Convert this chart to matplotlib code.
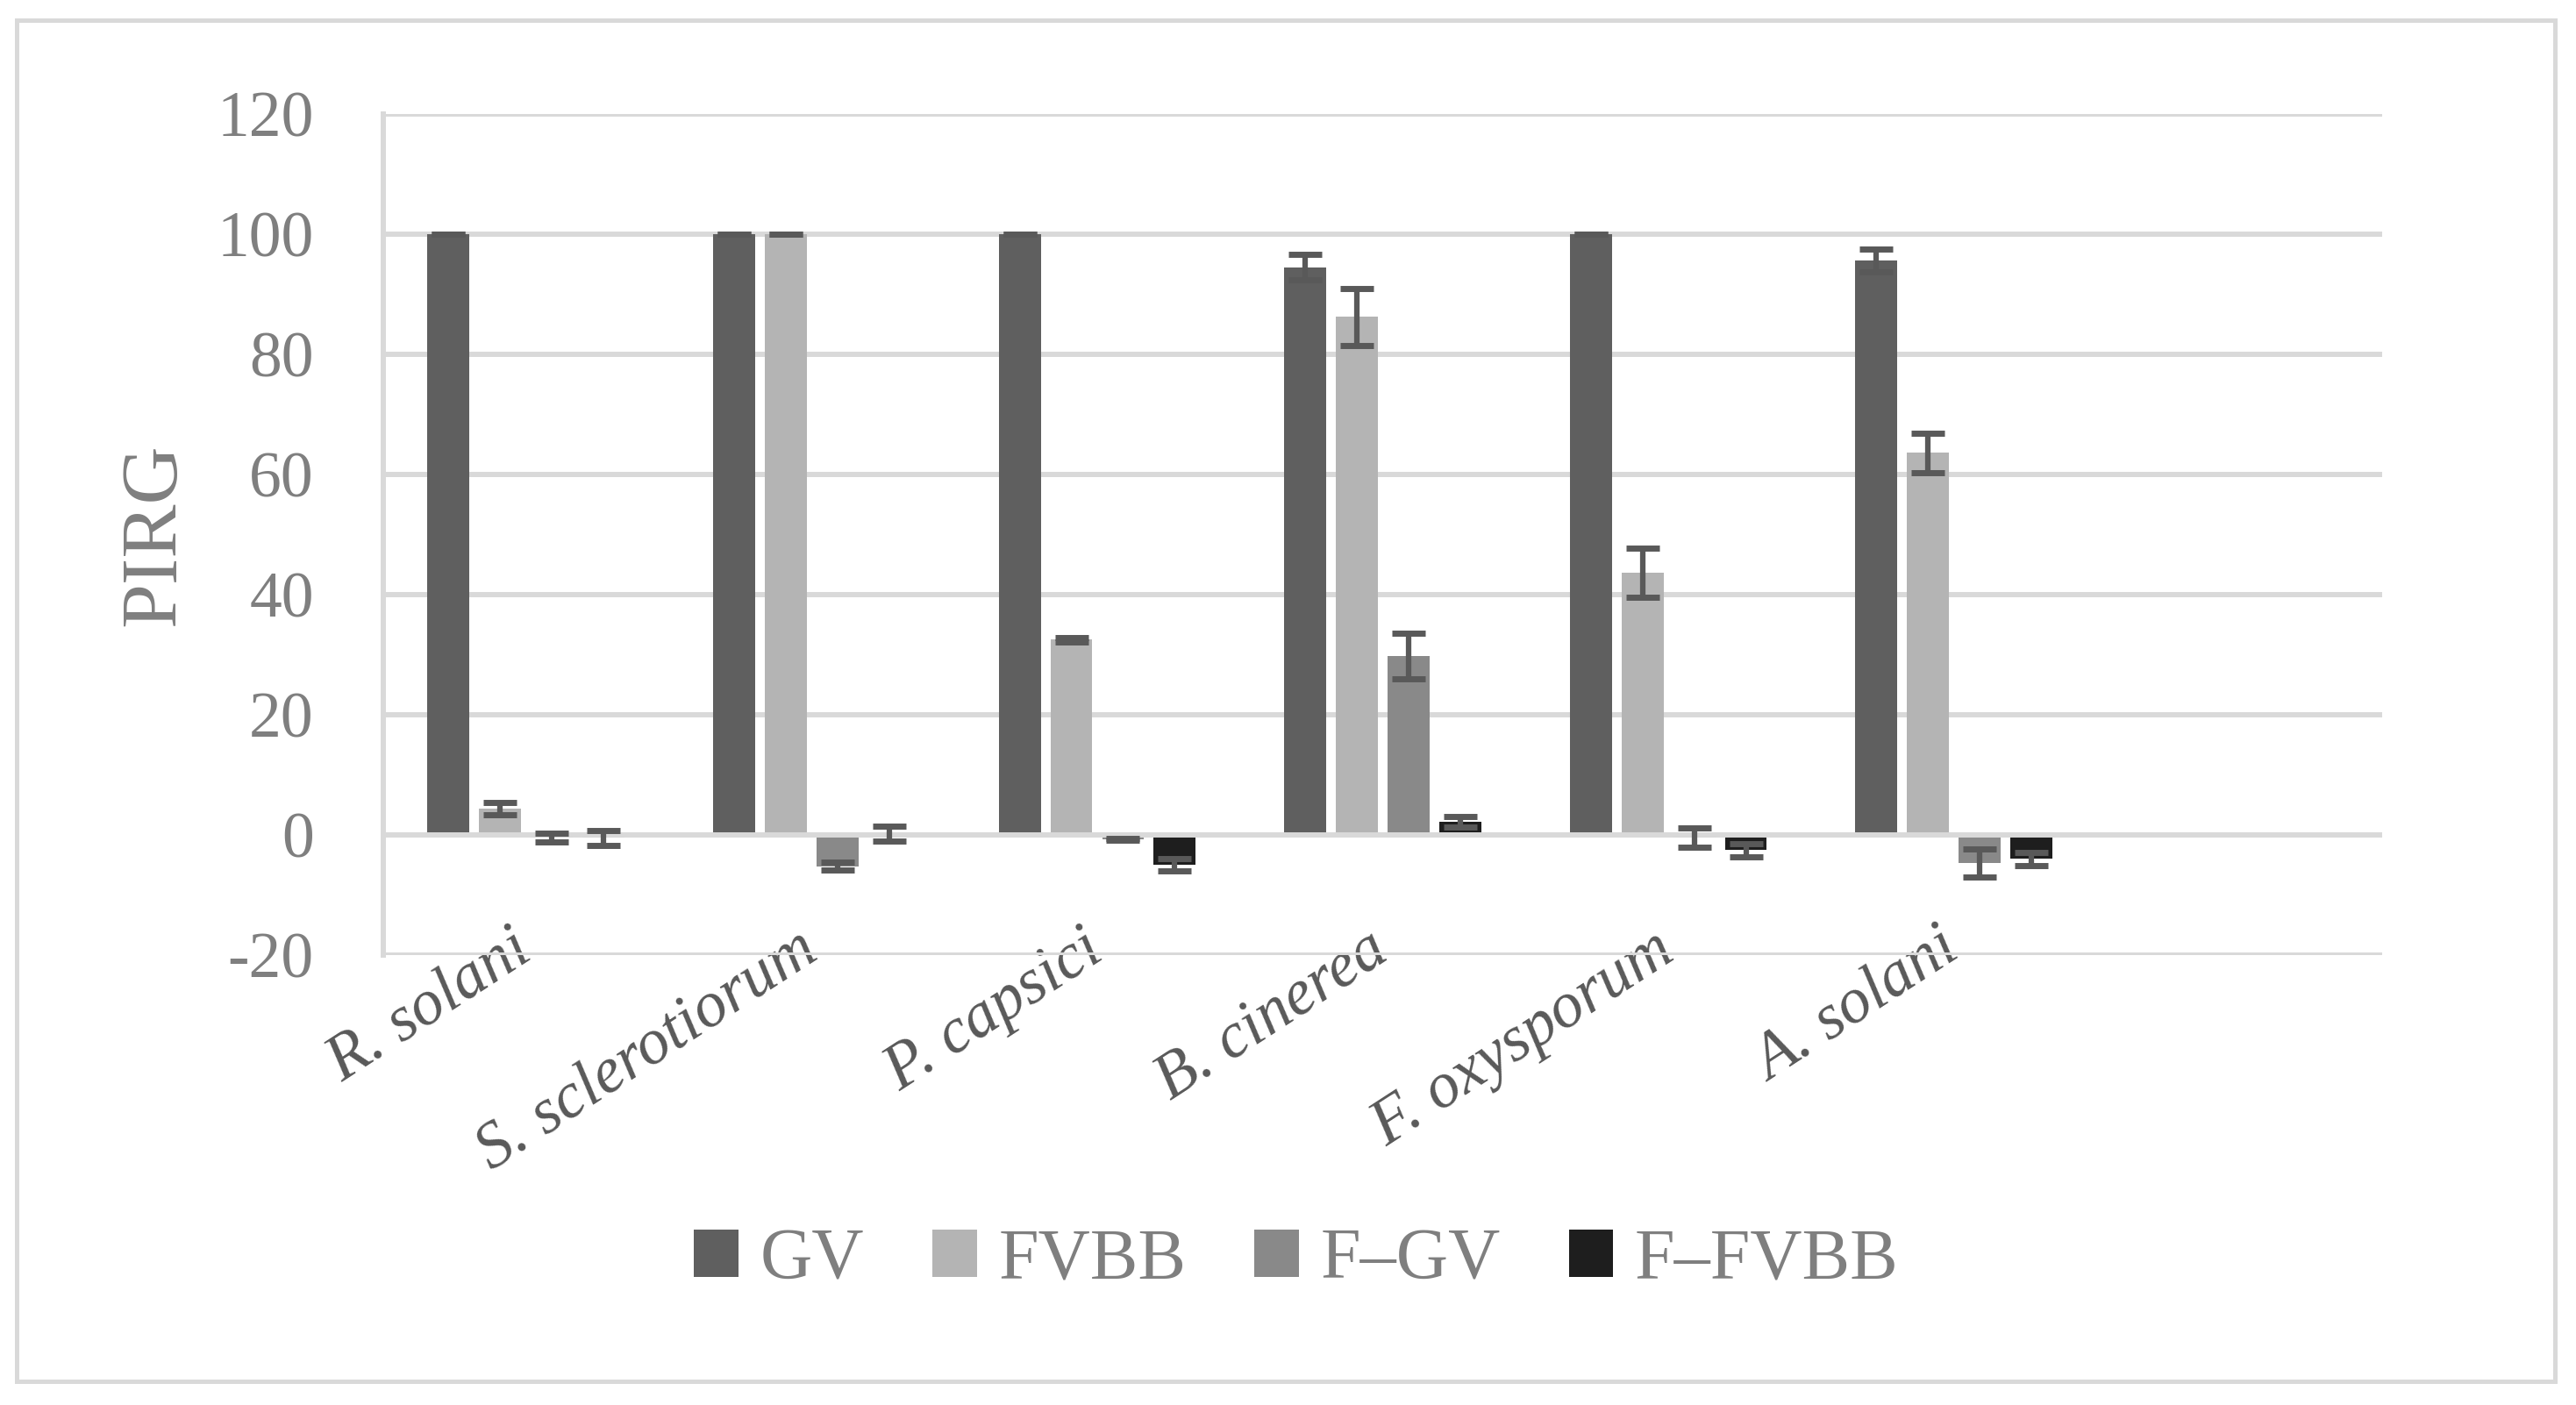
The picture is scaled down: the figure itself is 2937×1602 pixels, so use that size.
import numpy as np
import matplotlib
matplotlib.use("Agg")
import matplotlib.pyplot as plt
import matplotlib.transforms as mtransforms
from matplotlib.patches import Rectangle

plt.rcParams['font.family'] = ['Liberation Serif', 'DejaVu Serif']
plt.rcParams['axes.unicode_minus'] = False

# data
fungi = ["R. solani", "S. sclerotiorum", "P. capsici", "B. cinerea", "F. oxysporum", "A. solani"]
series = ["GV", "FVBB", "F\u2013GV", "F\u2013FVBB"]
gv = [100, 100, 100, 94.5, 100, 95.6]
gv_err = [0, 0, 0, 2.1, 0, 1.9]
fvbb = [4.4, 100, 32.5, 86.2, 43.7, 63.6]
fvbb_err = [1.0, 0, 0.4, 4.7, 4.1, 3.3]
fgv = [-0.4, -5.2, -0.7, 29.8, -0.4, -4.7]
fgv_err = [0.7, 0.7, 0.1, 3.8, 1.6, 2.3]
ffvbb = [-0.5, 0.2, -5.0, 2.2, -2.5, -4.0]
ffvbb_err = [1.2, 1.2, 1.05, 0.9, 1.1, 1.1]

colors = ["#5f5f5f", "#b4b4b4", "#898989", "#1e1e1e"]
grid_c = "#d9d9d9"
err_c = "#595959"

fig = plt.figure(figsize=(29.37, 16.02), dpi=100)
ax = fig.add_axes([0.1488, 0.3202, 0.776, 0.5987])

x = np.arange(len(fungi))
pitch = 0.181
width = 0.147
vals = [gv, fvbb, fgv, ffvbb]
errs = [gv_err, fvbb_err, fgv_err, ffvbb_err]
for i in range(4):
    xs = x + (i - 1.5) * pitch
    ax.bar(xs, vals[i], width, color=colors[i], label=series[i], zorder=2)
    ax.errorbar(xs, vals[i], yerr=errs[i], fmt='none', ecolor=err_c,
                elinewidth=4.5, capsize=13.7, capthick=5, zorder=4)

# horizontal axis line at zero drawn over the bars
ax.axhline(0, color=grid_c, lw=4.3, zorder=3)

ax.set_xlim(-0.5, 6.5)
ax.set_ylim(-20, 120)
ax.set_yticks(range(-20, 121, 20))
ax.yaxis.grid(True, color=grid_c, lw=4.3, zorder=0)
ax.set_axisbelow(True)
for s in ["top", "right", "bottom"]:
    ax.spines[s].set_visible(False)
ax.spines["left"].set_color(grid_c)
ax.spines["left"].set_linewidth(4.3)

ax.tick_params(axis='y', length=0, pad=57, labelsize=53, labelcolor="#7f7f7f")
ax.tick_params(axis='x', length=0, pad=0)
ax.set_xticks(x)
ax.set_xticklabels(fungi, rotation=33, ha='right', va='baseline',
                   rotation_mode='anchor', fontsize=53, style='italic',
                   color="#595959")
shift = mtransforms.ScaledTranslation(0.1, -0.03, fig.dpi_scale_trans)
for lab in ax.get_xticklabels():
    lab.set_clip_on(False)
    lab.set_transform(lab.get_transform() + shift)

ax.set_ylabel("PIRG", fontsize=66, color="#7f7f7f")
ax.yaxis.set_label_coords(-0.096, 0.5)

fig.legend(loc='center', bbox_to_anchor=(1478 / 2937, 1 - 1438 / 1602), ncol=4,
           frameon=False, fontsize=59, handlelength=0.62, handleheight=0.64,
           handletextpad=0.3, columnspacing=0.95, labelcolor="#7f7f7f")

# thin outer frame around the chart
fig.patches.append(Rectangle((19 / 2937, 1 - 1575 / 1602), (2913 - 19) / 2937,
                             (1575 - 23) / 1602, transform=fig.transFigure,
                             fill=False, edgecolor=grid_c, lw=3.6))

fig.savefig("out.png", dpi=100)
